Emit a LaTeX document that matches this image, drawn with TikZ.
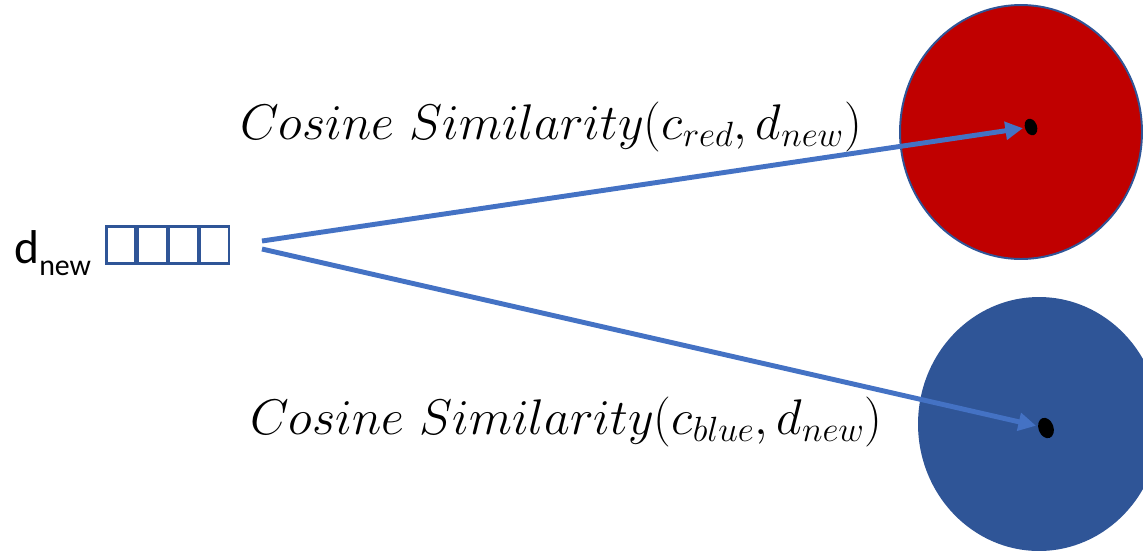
\RequirePackage{fix-cm}
\documentclass[tikz,border=0pt]{standalone}
\usepackage{fontspec}
\newfontfamily\calfont{Carlito}
\usetikzlibrary{arrows.meta,positioning,shapes.geometric}
\definecolor{linkblue}{HTML}{4472C4}
\definecolor{darkblue}{HTML}{2F5597}
\definecolor{darkred}{HTML}{C00000}
\begin{document}
\begin{tikzpicture}[x=0.02cm,y=-0.02cm,
      cell/.style={draw=darkblue,line width=1.3pt,minimum width=0.58cm,minimum height=0.74cm,inner sep=0pt},
      cluster/.style={ellipse,minimum width=4.84cm,minimum height=5.08cm,inner sep=0pt},
      centroid/.style={ellipse,fill=black,minimum width=0.24cm,minimum height=0.34cm,inner sep=0pt,rotate=20},
      simlabel/.style={anchor=base west,inner sep=0pt,font=\fontsize{28.5}{32}\selectfont},
      arr/.style={-{Triangle[length=10pt,width=10pt]},line width=2.8pt,draw=linkblue,shorten >=1pt}
    ]
      \clip (0,0) rectangle (1143,552);
      \node[cluster,fill=darkred,draw=darkblue,line width=1.1pt] (red) at (1021,132) {};
      \node[cluster,fill=darkblue] (blue) at (1039,424) {};
      \node[centroid] (rdot) at (1031,127) {};
      \node[centroid,minimum width=0.3cm,minimum height=0.42cm] (bdot) at (1046,428) {};
      \node[anchor=base west,inner sep=0pt,font=\calfont\fontsize{27}{30}\selectfont] (dnew) at (14,263)
        {d\raisebox{-7pt}{\fontsize{17}{17}\selectfont new}};
      \node[cell] (c1) at (121,245) {};
      \node[cell,right=0pt of c1] (c2) {};
      \node[cell,right=0pt of c2] (c3) {};
      \node[cell,right=0pt of c3] (c4) {};
      \node[simlabel] (simred) at (240,139) {$Cosine\ Similarity(c_{red},d_{new})$};
      \node[simlabel] (simblue) at (250,434) {$Cosine\ Similarity(c_{blue},d_{new})$};
      \coordinate (top) at (262,241);
      \coordinate (bot) at (262,249);
      \draw[arr] (top) -- (rdot);
      \draw[arr] (bot) -- (bdot);
    \end{tikzpicture}
\end{document}
